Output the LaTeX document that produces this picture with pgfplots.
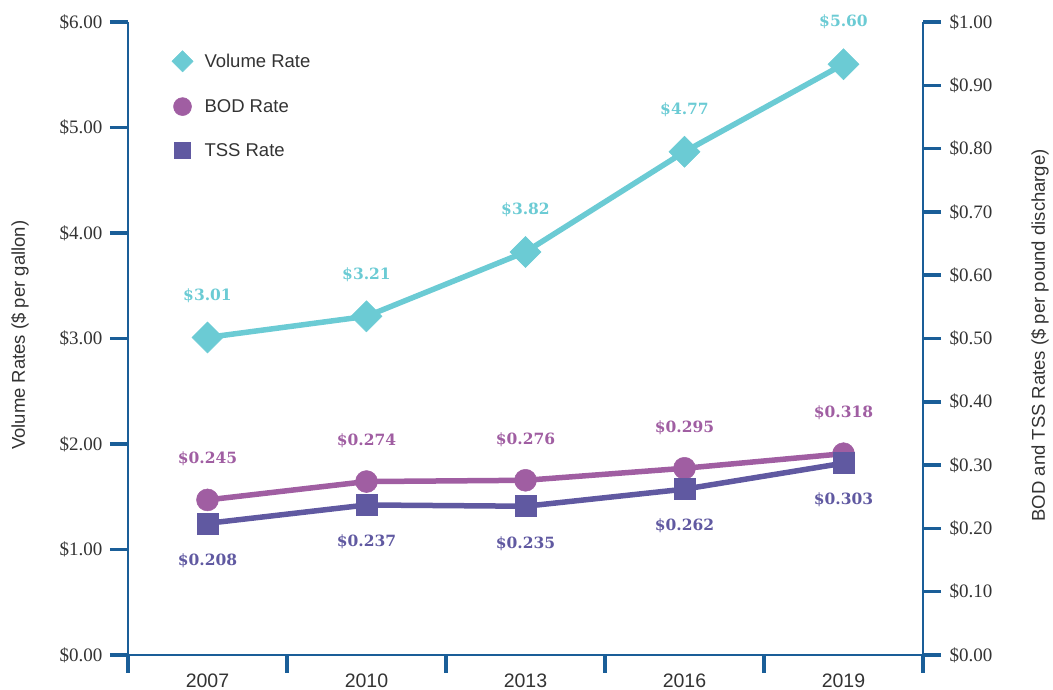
\documentclass[border=0pt]{standalone}
\usepackage{fontspec}
\setmainfont{Liberation Sans}
\newfontfamily\tickfont{Liberation Serif}
\newfontfamily\valfont{DejaVu Serif Bold}
\usepackage{pgfplots}
\pgfplotsset{compat=1.18}
\definecolor{volc}{RGB}{107,203,212}
\definecolor{bodc}{RGB}{160,94,162}
\definecolor{tssc}{RGB}{96,89,161}
\definecolor{axc}{RGB}{26,94,152}
\definecolor{txt}{RGB}{51,51,51}
\begin{document}
\begin{tikzpicture}
\pgfplotsset{
  common/.style={
    scale only axis, width=795pt, height=633pt,
    xmin=-0.5, xmax=4.5,
    axis line style={axc, line width=2.5pt},
    tick style={axc, line width=3.5pt},
    major tick length=18pt, minor tick length=18pt,
    tick align=outside,
    /pgf/number format/assume math mode=true,
    clip=false,
    xticklabel style={font=\fontsize{19.5}{22}\selectfont, text=txt, yshift=3pt},
  },
  vlab/.style={nodes near coords={\$\pgfplotspointmeta}, point meta=explicit symbolic,
    every node near coord/.append style={font=\valfont\fontsize{15.5}{17}\selectfont, anchor=center, yshift=#1}},
}
\begin{axis}[common,
  axis x line*=bottom, axis y line*=left,
  ymin=0, ymax=6, ytick={0,1,2,3,4,5,6},
  yticklabel style={font=\tickfont\fontsize{19}{21}\selectfont, text=txt, xshift=-4pt},
  yticklabel={\$\pgfmathprintnumber[fixed,fixed zerofill,precision=2]{\tick}},
  xtick={0,1,2,3,4}, xticklabels={2007,2010,2013,2016,2019},
  major x tick style={draw=none},
  minor xtick={-0.5,0.5,1.5,2.5,3.5,4.5},
  every axis y label/.style={at={(axis description cs:-0.136,0.505)}, rotate=90, anchor=center, font=\fontsize{18.5}{20}\selectfont, text=txt},
  ylabel={Volume Rates (\$ per gallon)},
  legend image code/.code={\path[draw=none,fill=none] (0pt,0pt) -- (20pt,0pt); \draw[#1] plot coordinates {(0pt,0pt)};},
  legend style={draw=none, fill=none, at={(axis description cs:0.055,0.955)}, anchor=north west,
    font=\fontsize{18.5}{20}\selectfont, text=txt, row sep=25.5pt, inner sep=0pt},
  legend cell align=left,
]
\addlegendimage{volc, only marks, mark=square*, mark size=7.5pt, mark options={rotate=45, line width=0.5pt}}
\addlegendentry{Volume Rate}
\addlegendimage{bodc, only marks, mark=*, mark size=9pt, mark options={line width=0.5pt}}
\addlegendentry{BOD Rate}
\addlegendimage{tssc, only marks, mark=square*, mark size=8pt, mark options={line width=0.5pt}}
\addlegendentry{TSS Rate}
\addplot[volc, line width=5.5pt, mark=square*, mark size=11pt, mark options={rotate=45, line width=0.5pt},
  vlab=42pt, forget plot] coordinates {
  (0,3.01) [3.01] (1,3.21) [3.21] (2,3.82) [3.82] (3,4.77) [4.77] (4,5.60) [5.60]
};
\end{axis}
\begin{axis}[common,
  axis x line=none, axis y line*=right,
  ymin=0, ymax=1, ytick={0,0.1,0.2,0.3,0.4,0.5,0.6,0.7,0.8,0.9,1},
  yticklabel style={font=\tickfont\fontsize{19}{21}\selectfont, text=txt, xshift=5pt},
  yticklabel={\$\pgfmathprintnumber[fixed,fixed zerofill,precision=2]{\tick}},
  every axis y label/.style={at={(axis description cs:1.147,0.505)}, rotate=90, anchor=center, font=\fontsize{18.5}{20}\selectfont, text=txt},
  ylabel={BOD and TSS Rates (\$ per pound discharge)},
]
\addplot[bodc, line width=5.5pt, mark=*, mark size=11pt, mark options={line width=0.5pt},
  vlab=41pt] coordinates {
  (0,0.245) [0.245] (1,0.274) [0.274] (2,0.276) [0.276] (3,0.295) [0.295] (4,0.318) [0.318]
};
\addplot[tssc, line width=5.5pt, mark=square*, mark size=10.5pt, mark options={line width=0.5pt},
  vlab=-37pt] coordinates {
  (0,0.208) [0.208] (1,0.237) [0.237] (2,0.235) [0.235] (3,0.262) [0.262] (4,0.303) [0.303]
};
\end{axis}
\pgfresetboundingbox
\path[use as bounding box] (-128pt,-35pt) rectangle (925pt,655pt);
\end{tikzpicture}
\end{document}
